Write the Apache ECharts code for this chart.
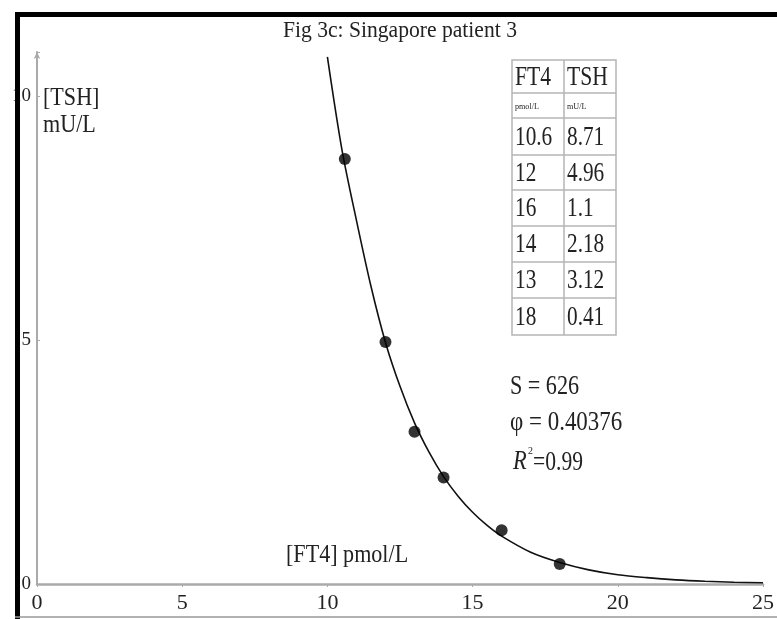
<!DOCTYPE html>
<html>
<head>
<meta charset="utf-8">
<script src="https://cdn.jsdelivr.net/npm/echarts@6/dist/echarts.min.js"></script>
<style>
  html, body { margin: 0; padding: 0; background: #fff; }
  #app { width: 777px; height: 619px; }
</style>
</head>
<body>
<div id="app"></div>
<script>
// measured points (also listed in the table)
const ft4 = [10.6, 12, 16, 14, 13, 18]
const tsh = [8.71, 4.96, 1.1, 2.18, 3.12, 0.41]

// fitted curve
const curveX = [10, 10.5, 11, 11.5, 12, 12.5, 13, 13.5, 14, 14.5, 15, 15.5, 16, 17, 18, 19, 20, 21, 22, 23, 24, 25]
const curveY = [10.8, 8.9, 7.45, 6.1, 4.95, 4.05, 3.3, 2.7, 2.2, 1.8, 1.47, 1.2, 0.98, 0.65, 0.44, 0.29, 0.19, 0.13, 0.085, 0.056, 0.037, 0.025]

const xTicks = [0, 5, 10, 15, 20, 25]
const yTicks = [0, 5, 10]

const serif = 'Liberation Serif'
const ink = '#222'
const chart = echarts.init(document.getElementById('app'), null, { renderer: 'canvas' })

// squeezed serif text, like the scanned figure
function txt(s, x, y, size, sx, extra) {
  return Object.assign({ type: 'text', x: x, y: y, z: 12, scaleX: sx,
    style: { text: s, font: size + 'px "' + serif + '"', fill: ink, verticalAlign: 'middle' } }, extra || {})
}

// table built from the point arrays
const colL = 512, colM = 564, colR = 616
const rowEdges = [60, 93, 118, 155, 190, 226, 262, 298, 335]
const gridCol = '#b5b5b5'
const tableGfx = []
tableGfx.push({ type: 'rect', shape: { x: colL, y: rowEdges[0], width: colR - colL, height: rowEdges[rowEdges.length - 1] - rowEdges[0] },
  style: { fill: '#fff', stroke: gridCol, lineWidth: 1.5 }, z: 10 })
tableGfx.push({ type: 'line', shape: { x1: colM, y1: rowEdges[0], x2: colM, y2: rowEdges[rowEdges.length - 1] }, style: { stroke: gridCol, lineWidth: 1.5 }, z: 11 })
for (let i = 1; i < rowEdges.length - 1; i++) {
  tableGfx.push({ type: 'line', shape: { x1: colL, y1: rowEdges[i], x2: colR, y2: rowEdges[i] }, style: { stroke: gridCol, lineWidth: 1.5 }, z: 11 })
}
function cell(s, col, row, size, sx) {
  const x = col === 0 ? colL + 3 : colM + 3
  const y = (rowEdges[row] + rowEdges[row + 1]) / 2 + 1
  return txt(s, x, y, size, sx)
}
tableGfx.push(cell('FT4', 0, 0, 27, 0.8), cell('TSH', 1, 0, 27, 0.8))
tableGfx.push(cell('pmol/L', 0, 1, 9, 0.9), cell('mU/L', 1, 1, 9, 0.9))
ft4.forEach((v, i) => {
  tableGfx.push(cell(String(v), 0, i + 2, 28, 0.76), cell(String(tsh[i]), 1, i + 2, 28, 0.76))
})

const option = {
  backgroundColor: '#fff',
  animation: false,
  grid: { left: 37, right: 14, top: 52, bottom: 35 },
  xAxis: {
    type: 'value', min: 0, max: 25, interval: 5,
    axisLine: { lineStyle: { color: '#aaa', width: 2.5 } },
    axisTick: { length: 3, lineStyle: { color: '#aaa' } },
    axisLabel: { fontFamily: serif, fontSize: 22, color: ink, margin: 8 },
    splitLine: { show: false }
  },
  yAxis: {
    type: 'value', min: 0, max: 10.9, interval: 5,
    axisLine: { show: true, onZero: false, symbol: ['none', 'arrow'], symbolSize: [5, 7], lineStyle: { color: '#aaa', width: 2 } },
    axisTick: { show: true, length: 3, inside: true, lineStyle: { color: '#aaa' } },
    axisLabel: { fontFamily: serif, fontSize: 19, color: ink, margin: 6,
      formatter: v => (yTicks.indexOf(v) >= 0 ? String(v) : '') },
    splitLine: { show: false }
  },
  series: [
    {
      type: 'line',
      data: curveX.map((x, i) => [x, curveY[i]]),
      smooth: 0.3,
      showSymbol: false,
      lineStyle: { color: '#111', width: 1.6 },
      z: 3
    },
    {
      type: 'scatter',
      data: ft4.map((x, i) => [x, tsh[i]]),
      symbolSize: 12,
      itemStyle: { color: '#000' },
      z: 4
    }
  ],
  graphic: [
    txt('Fig 3c: Singapore patient 3', 283, 31, 24, 0.9),
    txt('[TSH]', 43, 98, 26, 0.85),
    txt('mU/L', 43, 125, 26, 0.85),
    txt('[FT4] pmol/L', 286, 555, 26, 0.85),
    txt('S = 626', 510, 387, 27, 0.82),
    txt('φ = 0.40376', 510, 423, 27, 0.85),
    txt('R', 513, 462, 28, 0.8, { style: { text: 'R', font: 'italic 28px "' + serif + '"', fill: ink, verticalAlign: 'middle' } }),
    txt('2', 528, 451, 11, 0.9),
    txt('=0.99', 533, 463, 27, 0.8),
    ...tableGfx,
    // frame
    { type: 'rect', shape: { x: 15, y: 12, width: 770, height: 5 }, style: { fill: '#000' }, z: 20 },
    { type: 'rect', shape: { x: 15, y: 12, width: 5, height: 610 }, style: { fill: '#000' }, z: 20 },
    { type: 'line', shape: { x1: 15, y1: 617, x2: 777, y2: 617 }, style: { stroke: '#999', lineWidth: 1.5 }, z: 20 }
  ]
}
chart.setOption(option)
</script>
</body>
</html>
